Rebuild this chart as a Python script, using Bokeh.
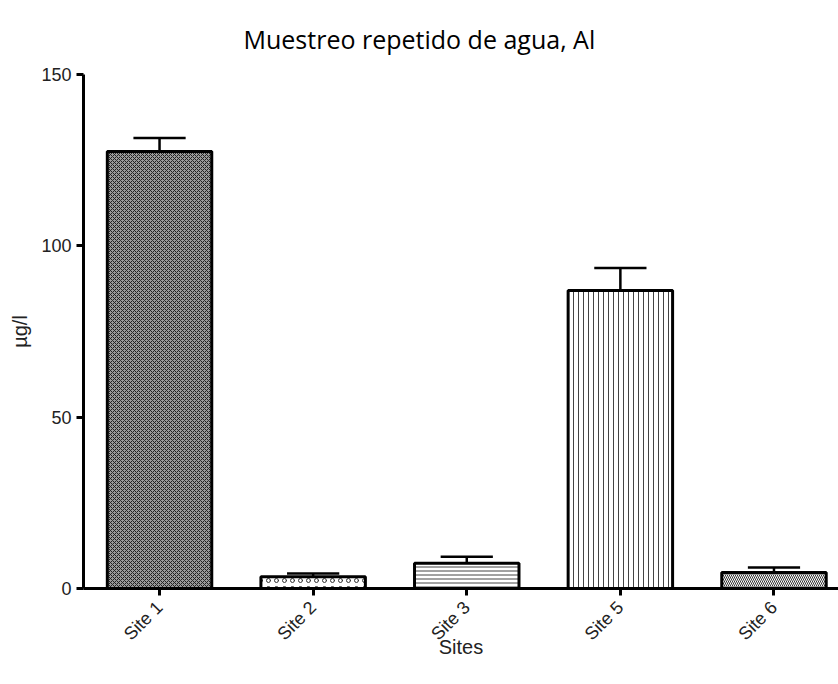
from bokeh.plotting import figure
from bokeh.models import ColumnDataSource, FixedTicker, Range1d
from bokeh.embed import file_html
from bokeh.resources import INLINE
import math

# ---- data ----
sites = ["Site 1", "Site 2", "Site 3", "Site 5", "Site 6"]
means = [127.5, 3.4, 7.4, 87.0, 4.7]
sem = [4.0, 1.0, 1.9, 6.5, 1.4]
y_ticks = [0, 50, 100, 150]

# ---- styles (not data) ----
patterns = ["x", "o", "-", "|", "\\"]
scales = [4, 8, 4, 5, 4]
fills = ["#9a9a9a", "white", "white", "white", "white"]
hcolors = ["#222222", "#333333", "#444444", "#444444", "#333333"]

xpos = list(range(len(sites)))
tops = [m + e for m, e in zip(means, sem)]
cap_half = 0.17

src = ColumnDataSource(dict(x=xpos, top=means, up=tops,
                            xl=[x - cap_half for x in xpos],
                            xr=[x + cap_half for x in xpos],
                            pat=patterns, sc=scales, fc=fills, hc=hcolors))

p = figure(width=838, height=684, output_backend="svg", toolbar_location=None,
           x_range=Range1d(-0.495, 4.42), y_range=Range1d(0, 150),
           min_border_left=83, min_border_right=0, min_border_top=73,
           min_border_bottom=96)

p.title.text = "Muestreo repetido de agua, Al"
p.title.align = "left"
p.title.offset = 160
p.title.text_font = "Open Sans"
p.title.text_font_size = "25px"
p.title.text_font_style = "normal"
p.title.text_color = "#000000"
p.title.standoff = 38

p.vbar(x="x", top="top", bottom=0, width=0.68, source=src,
       fill_color="fc", line_color="black", line_width=3,
       hatch_pattern="pat", hatch_scale="sc", hatch_color="hc", hatch_weight=1)

p.segment(x0="x", y0="top", x1="x", y1="up", source=src, line_color="black", line_width=2.5)
p.segment(x0="xl", y0="up", x1="xr", y1="up", source=src, line_color="black", line_width=2.5)

p.xgrid.visible = False
p.ygrid.visible = False
p.outline_line_color = None

p.xaxis.ticker = FixedTicker(ticks=xpos)
p.xaxis.major_label_overrides = {i: s for i, s in enumerate(sites)}
p.xaxis.major_label_orientation = math.pi / 4
p.yaxis.ticker = FixedTicker(ticks=y_ticks)
p.xaxis.axis_label = "Sites"
p.yaxis.axis_label = "µg/l"

for ax in (p.xaxis, p.yaxis):
    ax.axis_line_width = 3
    ax.major_tick_line_width = 3
    ax.major_tick_out = 7
    ax.major_tick_in = 0
    ax.minor_tick_line_color = None
    ax.major_label_text_font = "Liberation Sans"
    ax.major_label_text_font_size = "18px"
    ax.major_label_text_color = "#222222"
    ax.axis_label_text_font = "Liberation Sans"
    ax.axis_label_text_font_size = "20px"
    ax.axis_label_text_font_style = "normal"
    ax.axis_label_text_color = "#222222"
    ax.major_label_standoff = 5
    ax.axis_label_standoff = 7

p.xaxis.major_label_standoff = 9
p.xaxis.axis_label_standoff = -18

open("out.html", "w").write(file_html(p, INLINE))
